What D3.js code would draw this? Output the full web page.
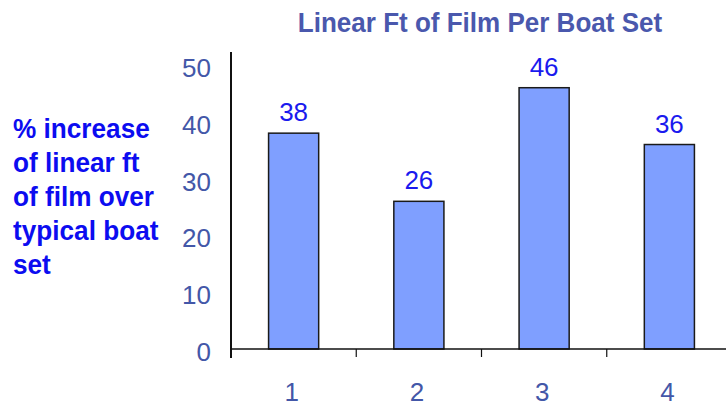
<!DOCTYPE html>
<html>
<head>
<meta charset="utf-8">
<script src="https://cdn.jsdelivr.net/npm/d3@7"></script>
<style>
  html, body { margin: 0; padding: 0; background: #fff; }
  svg { display: block; font-family: "Liberation Sans", Arial, sans-serif; }
</style>
</head>
<body>
<svg id="chart" width="726" height="407"></svg>
<script>
// Boat set number and % increase in linear ft of film
const categories = ["1", "2", "3", "4"];
const values = [38, 26, 46, 36];
const yTicks = [0, 10, 20, 30, 40, 50];
const titleText = "Linear Ft of Film Per Boat Set";
const yTitleLines = ["% increase", "of linear ft", "of film over", "typical boat", "set"];

const svg = d3.select("#chart");

const x0 = 231, x1 = 732;   // plot extends past the right edge
const yBase = 349, yTop = 52;

const x = d3.scaleBand().domain(categories).range([x0, x1]).padding(0);
const y = d3.scaleLinear().domain([0, 50]).range([yBase, yBase - 284]);

const barW = x.bandwidth() * 0.4;

// Title (slightly condensed bold face)
svg.append("text")
  .attr("transform", "translate(480,32) scale(0.93,1)")
  .attr("text-anchor", "middle")
  .attr("font-size", 28).attr("font-weight", "bold")
  .attr("fill", "#4a58ad")
  .text(titleText);

// Left axis title
const yt = svg.append("text")
  .attr("transform", "translate(13,0) scale(0.97,1)")
  .attr("font-size", 27).attr("font-weight", "bold")
  .attr("fill", "#0c0cf0");
yTitleLines.forEach((line, i) => {
  yt.append("tspan").attr("x", 0).attr("y", 138 + i * 34).text(line);
});

// Bars
svg.append("g").selectAll("rect")
  .data(values)
  .join("rect")
  .attr("x", (d, i) => x(categories[i]) + (x.bandwidth() - barW) / 2)
  .attr("y", d => y(d))
  .attr("width", barW)
  .attr("height", d => y(0) - y(d))
  .attr("fill", "#7f9fff")
  .attr("stroke", "#1a1a1a")
  .attr("stroke-width", 1.5);

// Value labels
svg.append("g").selectAll("text")
  .data(values)
  .join("text")
  .attr("x", (d, i) => x(categories[i]) + x.bandwidth() / 2)
  .attr("y", d => y(d) - 12)
  .attr("text-anchor", "middle")
  .attr("font-size", 26)
  .attr("fill", "#1a1aee")
  .text(d => d);

// Y axis line and tick labels
svg.append("line")
  .attr("x1", x0).attr("x2", x0)
  .attr("y1", yTop).attr("y2", yBase + 9)
  .attr("stroke", "#111").attr("stroke-width", 2);

svg.append("g").selectAll("text")
  .data(yTicks)
  .join("text")
  .attr("x", 211)
  .attr("y", d => y(d) + 12)
  .attr("text-anchor", "end")
  .attr("font-size", 26)
  .attr("fill", "#4357a8")
  .text(d => d);

// X axis with tick marks at category boundaries
const xAxis = d3.axisBottom(x).tickSize(0).tickFormat("");
const xg = svg.append("g").attr("transform", `translate(0,${yBase})`).call(xAxis);
xg.select(".domain").attr("stroke", "#111").attr("stroke-width", 1.5)
  .attr("d", `M${x0},0H726`);

svg.append("g").selectAll("line")
  .data(categories)
  .join("line")
  .attr("x1", d => x(d)).attr("x2", d => x(d))
  .attr("y1", yBase).attr("y2", yBase + 8)
  .attr("stroke", "#111").attr("stroke-width", 1.2);

svg.append("g").selectAll("text")
  .data(categories)
  .join("text")
  .attr("x", d => x(d) + x.bandwidth() / 2 - 2)
  .attr("y", 401)
  .attr("text-anchor", "middle")
  .attr("font-size", 26)
  .attr("fill", "#4357a8")
  .text(d => d);
</script>
</body>
</html>
